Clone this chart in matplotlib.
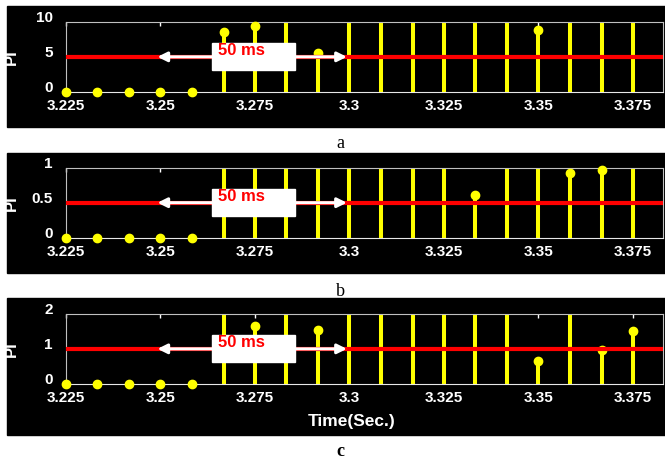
import matplotlib
matplotlib.use('Agg')
import matplotlib.pyplot as plt
import matplotlib.transforms as mtransforms
from matplotlib.patches import Rectangle

plt.rcParams['font.family'] = ['Liberation Sans', 'DejaVu Sans']

# sample instants (half cycles)
t = [3.225, 3.2333, 3.2417, 3.25, 3.2583, 3.2667, 3.275, 3.2833, 3.2917, 3.3,
     3.3083, 3.3167, 3.325, 3.3333, 3.3417, 3.35, 3.3583, 3.3667, 3.375]

# PI values, values above the axis top are drawn as clipped full stems
pi_a = [0, 0, 0, 0, 0, 8.5, 9.4, 12, 5.6, 12, 12, 12, 12, 12, 12, 8.8, 12, 12, 12]
pi_b = [0, 0, 0, 0, 0, 1.2, 1.2, 1.2, 1.2, 1.2, 1.2, 1.2, 1.2, 0.61, 1.2, 1.2, 0.93, 0.97, 1.2]
pi_c = [0, 0, 0, 0, 0, 2.4, 1.65, 2.4, 1.54, 2.4, 2.4, 2.4, 2.4, 2.4, 2.4, 0.66, 2.4, 0.97, 1.51]

thresholds = [5, 0.5, 1]
ymax = [10, 1, 2]
yticks = [[0, 5, 10], [0, 0.5, 1], [0, 1, 2]]
ylabels = [['0', '5', '10'], ['0', '0.5', '1'], ['0', '1', '2']]
xticks = [3.225, 3.25, 3.275, 3.3, 3.325, 3.35, 3.375]
xlabels = ['3.225', '3.25', '3.275', '3.3', '3.325', '3.35', '3.375']
captions = ['a', 'b', 'c']

W, H = 665, 461
fig = plt.figure(figsize=(W / 100, H / 100), dpi=100)

def fx(px):
    return px / W

def fy(py):
    return 1 - py / H

bg_boxes = [(6, 127.5), (153, 273.3), (298.3, 435)]
ax_boxes = [(22, 91.7), (167.7, 237.7), (313.7, 384)]
cap_y = [143, 291, 451]

for i, vals in enumerate([pi_a, pi_b, pi_c]):
    top, bot = bg_boxes[i]
    fig.add_artist(Rectangle((fx(6.7), fy(bot)), 1 - fx(6.7), (bot - top) / H,
                             transform=fig.transFigure, color='black', zorder=-5))
    at, ab = ax_boxes[i]
    ax = fig.add_axes([fx(66), fy(ab), fx(662.7) - fx(66), (ab - at) / H])
    ax.set_facecolor('black')

    ax.vlines(t, 0, vals, colors='#ffff00', lw=2.9, zorder=2)
    tk = [x for x, v in zip(t, vals) if v <= ymax[i]]
    vk = [v for v in vals if v <= ymax[i]]
    ax.plot(tk, vk, 'o', color='#ffff00', ms=6, clip_on=False, zorder=3)

    thr = thresholds[i]
    ax.axhline(thr, color='red', lw=3, zorder=4)
    ax.annotate('', xy=(3.2492, thr), xytext=(3.2993, thr),
                arrowprops=dict(arrowstyle='<|-|>', color='white', lw=2.2,
                                mutation_scale=14, shrinkA=0, shrinkB=0),
                zorder=5)
    trans = mtransforms.blended_transform_factory(ax.transData, ax.transAxes)
    ax.add_patch(Rectangle((3.2636, 0.307), 0.0221, 0.386, transform=trans,
                           color='white', zorder=6))
    ax.text(3.2653, 0.588, '50 ms', transform=trans, color='red',
            fontweight='bold', fontsize=12, va='center', zorder=7)

    ax.set_xlim(3.225, 3.38286)
    ax.set_ylim(0, ymax[i])
    ax.set_xticks(xticks)
    ax.set_xticklabels(xlabels)
    ax.set_yticks(yticks[i])
    ax.set_yticklabels(ylabels[i])
    ax.tick_params(axis='x', direction='in', top=True, colors='white',
                   length=3, width=1, pad=5, labelsize=11)
    ax.tick_params(axis='y', length=0, pad=9.5, colors='white', labelsize=11)
    for lab in ax.get_xticklabels() + ax.get_yticklabels():
        lab.set_fontweight('bold')
    for lab in ax.get_yticklabels():
        lab.set_verticalalignment('baseline')
    for side in ['left', 'top', 'right']:
        ax.spines[side].set_color('#c0c0c0')
    ax.spines['bottom'].set_color('#e8e8e8')

    ax.set_ylabel('PI', color='white', fontweight='bold', fontsize=12)
    ax.yaxis.set_label_coords(-0.079, 0.5)

    fig.text(fx(340), fy(cap_y[i]), captions[i], family='Liberation Serif',
             fontsize=13, ha='center', va='center',
             fontweight='bold' if captions[i] == 'c' else 'normal')

fig.text(fx(352), fy(421.7), 'Time(Sec.)', color='white', fontweight='bold',
         fontsize=12.5, ha='center', va='center')

fig.savefig('out.png', dpi=100, facecolor='white')
